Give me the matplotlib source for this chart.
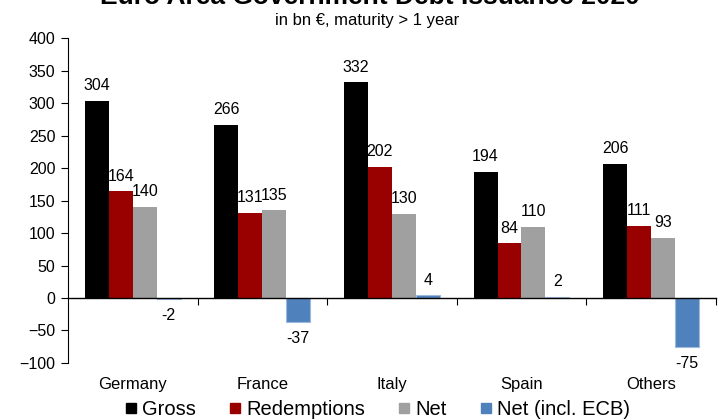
import numpy as np
import matplotlib.pyplot as plt
from matplotlib.lines import Line2D

plt.rcParams['font.family'] = ['Liberation Sans', 'DejaVu Sans']

countries = ['Germany', 'France', 'Italy', 'Spain', 'Others']
gross = [304, 266, 332, 194, 206]
redemptions = [164, 131, 202, 84, 111]
net = [140, 135, 130, 110, 93]
net_ecb = [-2, -37, 4, 2, -75]

series = [
    ('Gross', gross, '#000000'),
    ('Redemptions', redemptions, '#990000'),
    ('Net', net, '#A0A0A0'),
    ('Net (incl. ECB)', net_ecb, '#4F81BD'),
]

fig = plt.figure(figsize=(7.18, 4.19), dpi=100)
ax = fig.add_axes([0.0947, 0.1337, 0.9023, 0.7753])

x = np.arange(len(countries))
w = 0.185
for k, (name, vals, col) in enumerate(series):
    pos = x + (k - 1.5) * w
    if name.startswith('Net ('):
        ax.bar(pos, vals, w, color=col, edgecolor='#9DB9DE', linewidth=0.8)
    else:
        ax.bar(pos, vals, w, color=col, linewidth=0)
    for px, v in zip(pos, vals):
        off = 11 if v >= 0 else -12
        ax.annotate(str(v), (px, v), xytext=(0, off), textcoords='offset points',
                    ha='center', va='center', fontsize=11.5)

ax.set_xlim(-0.5, len(countries) - 0.5)
ax.set_ylim(-100, 400)
ax.set_yticks(np.arange(-100, 401, 50))
ax.tick_params(axis='y', direction='out', length=5, width=0.8, labelsize=11.5, pad=4)

# x axis runs along zero, ticks between groups, names below the plot
ax.spines['bottom'].set_position(('data', 0))
ax.spines['top'].set_visible(False)
ax.spines['right'].set_visible(False)
ax.spines['left'].set_linewidth(0.8)
ax.spines['bottom'].set_linewidth(1.0)
ax.set_xticks(x)
ax.set_xticklabels(countries, fontsize=12)
ax.set_xticks(np.arange(0.5, len(countries)), minor=True)
ax.tick_params(axis='x', which='major', length=0, pad=57)
ax.tick_params(axis='x', which='minor', direction='out', length=5, width=0.8)

fig.text(0.515, 0.9905, 'Euro Area Government Debt Issuance 2020', ha='center',
         va='baseline', fontsize=19, fontweight='bold')
fig.text(0.512, 0.940, 'in bn \u20ac, maturity > 1 year', ha='center', va='baseline',
         fontsize=12)

handles = [Line2D([], [], marker='s', linestyle='', color=c, markersize=7.5)
           for _, _, c in series]
fig.legend(handles, [s[0] for s in series], loc='center', ncol=4,
           bbox_to_anchor=(0.525, 0.022), frameon=False, fontsize=14.5,
           handletextpad=0.2, columnspacing=1.6, handlelength=0.7,
           borderpad=0, borderaxespad=0)

fig.savefig('out.png', dpi=100)
